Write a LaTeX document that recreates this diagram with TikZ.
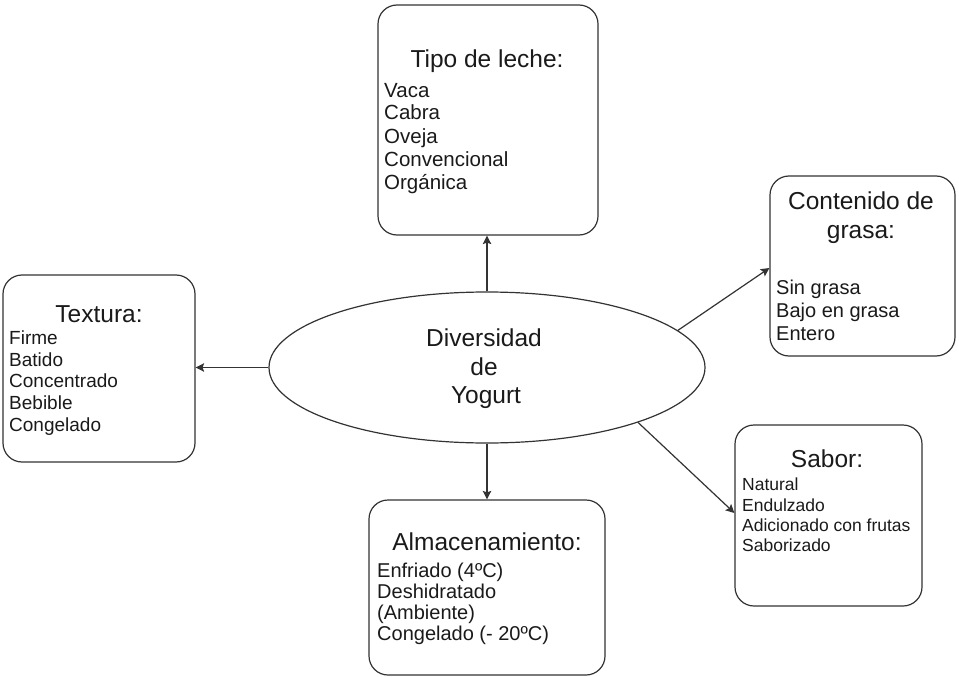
\documentclass[tikz,border=0pt]{standalone}
\usepackage{fontspec}
\setmainfont{Liberation Sans}
\usetikzlibrary{arrows.meta,shapes.geometric}
\definecolor{linec}{HTML}{333333}
\definecolor{textc}{HTML}{1A1A1A}
\tikzset{
  catbox/.style={draw=linec, line width=1.2pt, rounded corners=19pt, fill=white, inner sep=0pt},
  centerell/.style={ellipse, draw=linec, line width=1.2pt, fill=white, inner sep=0pt},
  conn/.style={draw=linec, line width=1.2pt, -{Stealth[length=8.5pt,width=8.5pt,inset=1.5pt]}},
  ttl/.style={anchor=base, inner sep=0pt, text=textc, font=\fontsize{24.5}{28}\selectfont},
  itm/.style={anchor=base west, inner sep=0pt, text=textc, font=\fontsize{#1}{22}\selectfont},
  itm/.default=20
}
\begin{document}
\begin{tikzpicture}[x=1pt,y=-1pt]
\useasboundingbox[fill=white] (0,0) rectangle (959,677);
% boxes
\node[catbox, minimum width=220pt, minimum height=230pt] (tipo) at (488,120) {};
\node[catbox, minimum width=185pt, minimum height=180pt] (cont) at (862.5,266) {};
\node[catbox, minimum width=192pt, minimum height=187pt] (tex) at (99,368.5) {};
\node[catbox, minimum width=236pt, minimum height=175pt] (alm) at (487,587.5) {};
\node[catbox, minimum width=187pt, minimum height=181pt] (sab) at (828.5,515.5) {};
\node[centerell, minimum width=436pt, minimum height=151pt] (ell) at (487,367.5) {};
% connectors
\draw[conn] (ell.north) -- (ell.north |- tipo.south);
\draw[conn] (ell.west) -- (ell.west -| tex.east);
\draw[conn] (ell.south) -- (ell.south |- alm.north);
\draw[conn] (ell.11) -- ([yshift=-2pt]cont.west);
\draw[conn] (ell.-20) -- ([yshift=2.5pt]sab.west);
% center text
\node[ttl] (e1) at (484,346) {Diversidad};
\node[ttl] (e2) at (484,375) {de};
\node[ttl] (e3) at (486,403) {Yogurt};
% Tipo de leche
\node[ttl] (t0) at (487,68) {Tipo de leche:};
\node[itm=20.5] (t1) at (384,97) {Vaca};
\node[itm=20.5] (t2) at (384,120) {Cabra};
\node[itm=20.5] (t3) at (384,143) {Oveja};
\node[itm=20.5] (t4) at (384,166) {Convencional};
\node[itm=20.5] (t5) at (384,189) {Orgánica};
% Contenido de grasa
\node[ttl] (c0) at (861,209) {Contenido de};
\node[ttl] (c0b) at (861,238) {grasa:};
\node[itm] (c1) at (776,294) {Sin grasa};
\node[itm] (c2) at (776,317) {Bajo en grasa};
\node[itm] (c3) at (776,340) {Entero};
% Textura
\node[ttl] (x0) at (99,322) {Textura:};
\node[itm=19] (x1) at (9,344) {Firme};
\node[itm=19] (x2) at (9,366) {Batido};
\node[itm=19] (x3) at (9,387.5) {Concentrado};
\node[itm=19] (x4) at (9,409) {Bebible};
\node[itm=19] (x5) at (9,431) {Congelado};
% Almacenamiento
\node[ttl] (a0) at (487,550) {Almacenamiento:};
\node[itm] (a1) at (377,577.5) {Enfriado (4ºC)};
\node[itm] (a2) at (377,598.5) {Deshidratado};
\node[itm] (a3) at (377,619) {(Ambiente)};
\node[itm] (a4) at (377,640) {Congelado (- 20ºC)};
% Sabor
\node[ttl] (s0) at (827,467) {Sabor:};
\node[itm=17.5] (s1) at (742,490) {Natural};
\node[itm=17.5] (s2) at (742,511) {Endulzado};
\node[itm=17.5] (s3) at (742,531) {Adicionado con frutas};
\node[itm=17.5] (s4) at (742,551) {Saborizado};
\end{tikzpicture}
\end{document}
